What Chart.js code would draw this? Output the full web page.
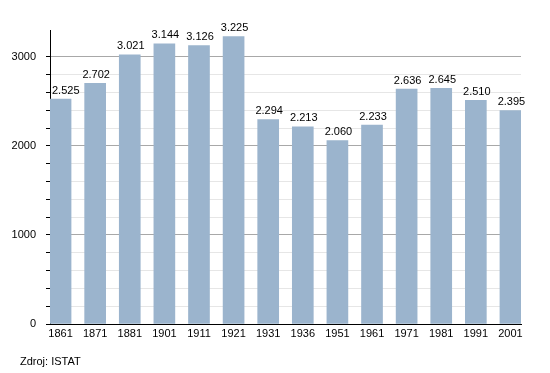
<!DOCTYPE html>
<html><head><meta charset="utf-8">
<script src="https://cdn.jsdelivr.net/npm/chart.js@4/dist/chart.umd.min.js"></script>
<style>
html,body{margin:0;padding:0;background:#fff;}
#wrap{position:relative;width:550px;height:373px;}
#src{position:absolute;left:20px;top:355px;font:11px "Liberation Sans",Arial,sans-serif;color:#000;}
</style></head>
<body><div id="wrap"><canvas id="c" width="550" height="373"></canvas><div id="src">Zdroj: ISTAT</div></div>
<script>
const years = ['1861','1871','1881','1901','1911','1921','1931','1936','1951','1961','1971','1981','1991','2001'];
const population = [2525,2702,3021,3144,3126,3225,2294,2213,2060,2233,2636,2645,2510,2395];
const yTickLabels = [0,1000,2000,3000];

const fmt = v => { const s = String(v); return s.length > 3 ? s.slice(0, s.length-3) + '.' + s.slice(-3) : s; };

const labelPlugin = {
  id: 'vals',
  afterDatasetsDraw(chart) {
    const ctx = chart.ctx;
    const meta = chart.getDatasetMeta(0);
    const left = chart.chartArea.left;
    ctx.save();
    ctx.font = '11px "Liberation Sans", Arial, sans-serif';
    ctx.fillStyle = '#000';
    ctx.textAlign = 'center';
    ctx.textBaseline = 'bottom';
    meta.data.forEach((bar, i) => {
      const t = fmt(population[i]);
      const w = ctx.measureText(t).width;
      const x = Math.max(bar.x + 1, left + 2 + w / 2);
      ctx.fillText(t, x, bar.y - 3);
    });
    ctx.restore();
  }
};

const points = population.map((v, i) => ({ x: i, y: v }));

new Chart(document.getElementById('c'), {
  type: 'bar',
  data: { datasets: [{ data: points, backgroundColor: '#9bb4cd', borderWidth: 0, barThickness: 21 }] },
  options: {
    responsive: false, animation: false,
    layout: { padding: { left: 0, right: 29, top: 30, bottom: 0 } },
    plugins: { legend: { display: false }, tooltip: { enabled: false } },
    scales: {
      x: {
        type: 'linear', min: -0.305, max: years.length - 1 + 0.305, offset: false,
        grid: { display: false, drawTicks: false },
        border: { color: '#000', width: 1 },
        afterBuildTicks(s) { s.ticks = years.map((y, i) => ({ value: i })); },
        ticks: { color: '#000', font: { family: '"Liberation Sans", Arial, sans-serif', size: 11 }, padding: 3, maxRotation: 0, autoSkip: false,
          callback: v => years[v] },
        afterFit(s) { s.height = 49; }
      },
      y: {
        min: 0, max: 3300,
        border: { color: '#000', width: 1 },
        grid: {
          color: c => { const v = c.tick.value; if (v === 0 || v > 3200) return 'rgba(0,0,0,0)'; return v % 1000 === 0 ? '#a8a8a8' : '#e6e6e6'; },
          tickColor: c => c.tick.value > 3200 ? 'rgba(0,0,0,0)' : '#000',
          tickLength: 4
        },
        ticks: {
          stepSize: 200, color: '#000', padding: 10,
          font: { family: '"Liberation Sans", Arial, sans-serif', size: 11 },
          callback: v => yTickLabels.includes(v) ? String(v) : ''
        },
        afterFit(s) { s.width = 50; }
      }
    }
  },
  plugins: [labelPlugin]
});
</script></body></html>
